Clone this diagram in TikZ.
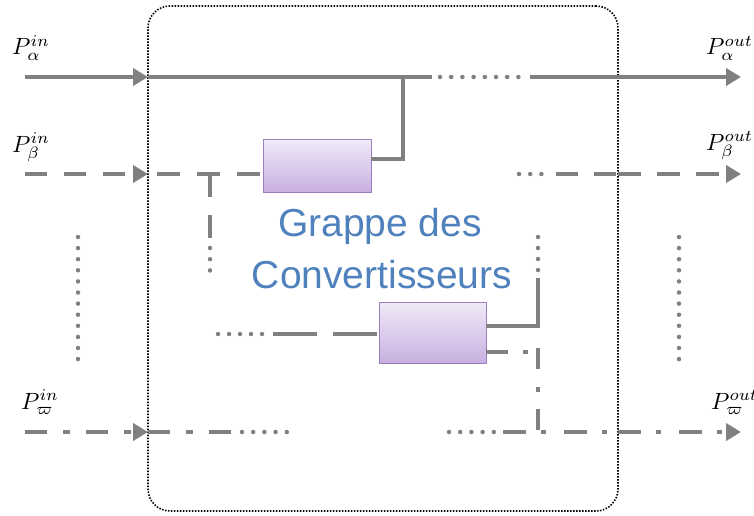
\documentclass[tikz,border=0pt]{standalone}
\usepackage{graphicx}
\usepackage{fontspec}
\newfontfamily\lsans{Liberation Sans}
\usetikzlibrary{arrows.meta}
\definecolor{lgray}{HTML}{808080}
\definecolor{tblue}{HTML}{4F81BD}
\definecolor{bxtop}{HTML}{F0EAF8}
\definecolor{bxbot}{HTML}{C8B0E0}
\definecolor{bxdraw}{HTML}{9A7EBE}
\newcommand{\biglbl}[1]{\scalebox{2.35}{$#1$}}
\begin{document}
\begin{tikzpicture}[x=1pt,y=-1pt,
  wire/.style={draw=lgray, line width=4.5pt},
  arr/.style={-{Triangle[length=15pt,width=17pt]}},
  dashw/.style={wire, dash pattern=on 22pt off 17pt},
  ddw/.style={wire, dash pattern=on 22pt off 16pt on 7pt off 16pt},
  ddr/.style={wire, dash pattern=on 23pt off 15pt on 5pt off 18pt},
  dotw/.style={wire, line cap=round, dash pattern=on 0pt off 11.2pt},
  conv/.style={draw=bxdraw, line width=0.8pt, top color=bxtop, bottom color=bxbot, inner sep=0pt, outer sep=0pt},
  lbl/.style={inner sep=0pt, anchor=base west},
  gtext/.style={font=\lsans\fontsize{39}{48}\selectfont, text=tblue, inner sep=0pt, anchor=base},
  grpbox/.style={draw=black, line width=1.6pt, dash pattern=on 1.5pt off 1.5pt, rounded corners=22pt, inner sep=0pt, outer sep=0pt, minimum width=470pt, minimum height=505pt}
  ]
\useasboundingbox (0,0) rectangle (754,516);
% group box
\node[grpbox] (grp) at (383,258.5) {};
% converters
\node[conv, minimum width=108pt, minimum height=53pt] (b1) at (317,165.5) {};
\node[conv, minimum width=107pt, minimum height=61pt] (b2) at (432.5,332.5) {};
% text
\node[gtext] (t1) at (380,236) {Grappe des};
\node[gtext] (t2) at (382,288) {Convertisseurs};
% labels
\node[lbl] (lai) at (12,55) {\biglbl{P_{\alpha}^{in}}};
\node[lbl] (lbi) at (12,152) {\biglbl{P_{\beta}^{in}}};
\node[lbl] (lwi) at (21,409) {\biglbl{P_{\varpi}^{in}}};
\node[lbl] (lao) at (706,55) {\biglbl{P_{\alpha}^{out}}};
\node[lbl] (lbo) at (706,150) {\biglbl{P_{\beta}^{out}}};
\node[lbl] (lwo) at (711,409) {\biglbl{P_{\varpi}^{out}}};
% ---- alpha row
\coordinate (a0) at (25,77);
\coordinate (a1) at (148,77);
\coordinate (a2) at (432,77);
\coordinate (a3) at (440,77);
\coordinate (a4) at (520,77);
\coordinate (a5) at (530,77);
\coordinate (a6) at (741,77);
\coordinate (ab0) at (403,77);
\coordinate (ab1) at (403,159);
\draw[wire, arr] (a0) -- (a1);
\draw[wire] (a1) -- (a2);
\draw[dotw] (a3) -- (a4);
\draw[wire, arr] (a5) -- (a6);
\draw[wire] (ab0) -- (ab1) -- (b1.east |- ab1);
% ---- beta row
\coordinate (c0) at (25,174);
\coordinate (c1) at (148,174);
\coordinate (c2) at (519,174);
\coordinate (c3) at (543,174);
\coordinate (c4) at (556,174);
\coordinate (c5) at (618,174);
\coordinate (c6) at (741,174);
\coordinate (cv0) at (210,174);
\coordinate (cv1) at (210,238);
\coordinate (cv2) at (210,248);
\coordinate (cv3) at (210,271);
\draw[dashw, arr] (c0) -- (c1);
\draw[wire, dash pattern=on 23pt off 17pt, dash phase=31pt] (c1) -- (b1.west |- c1);
\draw[wire, dash pattern=on 23pt off 18pt] (cv0) -- (cv1);
\draw[dotw] (cv2) -- (cv3);
\draw[dotw] (c2) -- (c3);
\draw[wire, dash pattern=on 22pt off 16pt] (c4) -- (c5);
\draw[wire, dash pattern=on 23pt off 16pt, arr] (c5) -- (c6);
% ---- vertical ellipses
\coordinate (vl0) at (78,237);
\coordinate (vl1) at (78,361);
\coordinate (vr0) at (679,237);
\coordinate (vr1) at (679,361);
\draw[dotw, dash pattern=on 0pt off 11.1pt] (vl0) -- (vl1);
\draw[dotw, dash pattern=on 0pt off 11.1pt] (vr0) -- (vr1);
% ---- lower converter
\coordinate (m0) at (538,237);
\coordinate (m1) at (538,271);
\coordinate (m2) at (538,278);
\coordinate (m3) at (538,326);
\draw[dotw, dash pattern=on 0pt off 11pt] (m0) -- (m1);
\draw[wire] (m2) -- (m3) -- (b2.east |- m3);
\coordinate (d0) at (218,334);
\coordinate (d1) at (263,334);
\coordinate (d2) at (273,334);
\draw[dotw, dash pattern=on 0pt off 11pt] (d0) -- (d1);
\draw[wire, dash pattern=on 44pt off 16pt] (d2) -- (b2.west |- d2);
\coordinate (e0) at (486,352);
\coordinate (e1) at (530,352);
\coordinate (e2) at (538,348);
\coordinate (e3) at (538,430);
\draw[wire, dash pattern=on 22pt off 15pt on 5pt off 20pt] (b2.east |- e0) -- (e1);
\draw[wire, dash pattern=on 21pt off 18pt on 5pt off 17pt] (e2) -- (e3);
% ---- omega row
\coordinate (w0) at (25,432);
\coordinate (w1) at (148,432);
\coordinate (w2) at (231,432);
\coordinate (w3) at (242,432);
\coordinate (w4) at (288,432);
\coordinate (w5) at (449,432);
\coordinate (w6) at (495,432);
\coordinate (w7) at (503,432);
\coordinate (w8) at (618,432);
\coordinate (w9) at (741,432);
\draw[ddw, arr] (w0) -- (w1);
\draw[ddw] (w1) -- (w2);
\draw[dotw] (w3) -- (w4);
\draw[dotw] (w5) -- (w6);
\draw[ddr] (w7) -- (w8);
\draw[ddr, arr] (w8) -- (w9);
\end{tikzpicture}
\end{document}
